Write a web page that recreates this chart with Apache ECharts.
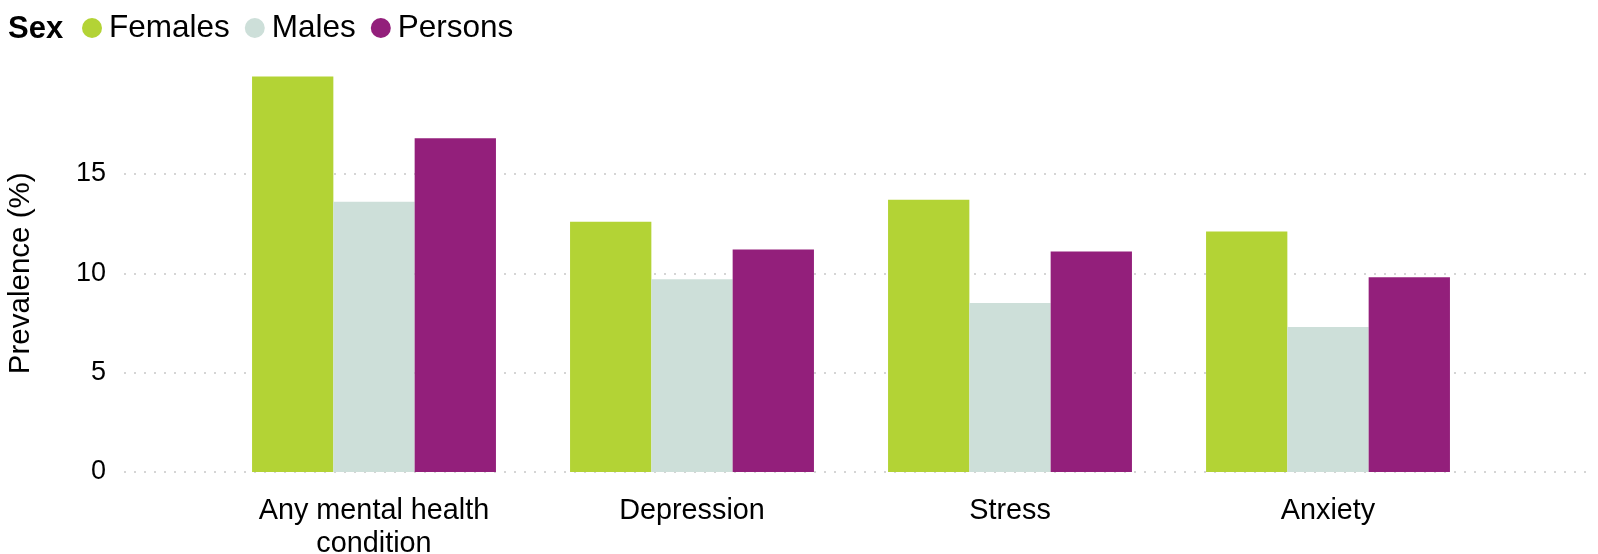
<!DOCTYPE html>
<html>
<head>
<meta charset="utf-8">
<script src="https://cdn.jsdelivr.net/npm/echarts@6/dist/echarts.min.js"></script>
<style>
  html, body { margin: 0; padding: 0; background: #ffffff; }
  #chart { width: 1598px; height: 554px; }
</style>
</head>
<body>
<div id="chart"></div>
<script>
// Prevalence of mental health conditions by sex
const categories = ['Any mental health\ncondition', 'Depression', 'Stress', 'Anxiety'];
const females = [19.9, 12.6, 13.7, 12.1];
const males = [13.6, 9.7, 8.5, 7.3];
const persons = [16.8, 11.2, 11.1, 9.8];
const seriesNames = ['Females', 'Males', 'Persons'];
const yMin = 0, yMax = 20, yStep = 5;

const FONT = '"Liberation Sans", Arial, Helvetica, sans-serif';
const colors = ['#B3D335', '#CDDFD9', '#931F7B'];
const gridTop = 74.6, gridBottom = 82;

const chart = echarts.init(document.getElementById('chart'), null, { renderer: 'canvas' });

const barSeries = [females, males, persons].map((vals, i) => ({
  name: seriesNames[i],
  type: 'bar',
  xAxisIndex: 1,
  yAxisIndex: 1,
  data: vals,
  barWidth: 81.3,
  barGap: '0%',
  itemStyle: { color: colors[i] },
  emphasis: { disabled: true }
}));

chart.setOption({
  animation: false,
  color: colors,
  textStyle: { fontFamily: FONT },
  title: {
    text: 'Sex',
    left: 8,
    top: 14,
    padding: 0,
    textStyle: { fontFamily: FONT, fontSize: 31, fontWeight: 'bold', color: '#000' }
  },
  legend: {
    data: seriesNames,
    left: 82,
    top: 12,
    padding: 0,
    icon: 'circle',
    itemWidth: 20,
    itemHeight: 20,
    itemGap: 15,
    textStyle: { fontFamily: FONT, fontSize: 31.5, color: '#000', padding: [0, 0, 0, 2] },
    selectedMode: false
  },
  grid: [
    // full-width background grid: gridlines, y labels, y title
    { left: 124, right: 12, top: gridTop, bottom: gridBottom, containLabel: false, outerBoundsMode: 'none' },
    // bar grid
    { left: 215, width: 1272, top: gridTop, bottom: gridBottom, containLabel: false, outerBoundsMode: 'none' }
  ],
  xAxis: [
    { gridIndex: 0, type: 'value', min: 0, max: 1, show: false },
    {
      gridIndex: 1,
      type: 'category',
      data: categories,
      axisLine: { show: false },
      axisTick: { show: false },
      axisLabel: {
        fontFamily: FONT, fontSize: 28.8, color: '#000', margin: 23,
        lineHeight: 33, interval: 0
      }
    }
  ],
  yAxis: [
    {
      gridIndex: 0,
      type: 'value',
      min: yMin, max: yMax, interval: yStep,
      name: 'Prevalence (%)',
      nameLocation: 'middle',
      nameGap: 88,
      nameTextStyle: { fontFamily: FONT, fontSize: 29.5, color: '#000' },
      axisLine: { show: false },
      axisTick: { show: false },
      axisLabel: { fontFamily: FONT, fontSize: 27, color: '#000', margin: 18, showMaxLabel: false },
      splitLine: {
        show: true,
        lineStyle: {
          color: ['#c8c8c8', '#c8c8c8', '#c8c8c8', '#c8c8c8', 'rgba(0,0,0,0)'],
          width: 1.5,
          type: [2, 8]
        }
      }
    },
    { gridIndex: 1, type: 'value', min: yMin, max: yMax, interval: yStep, show: false, splitLine: { show: false } }
  ],
  series: barSeries
});
</script>
</body>
</html>
